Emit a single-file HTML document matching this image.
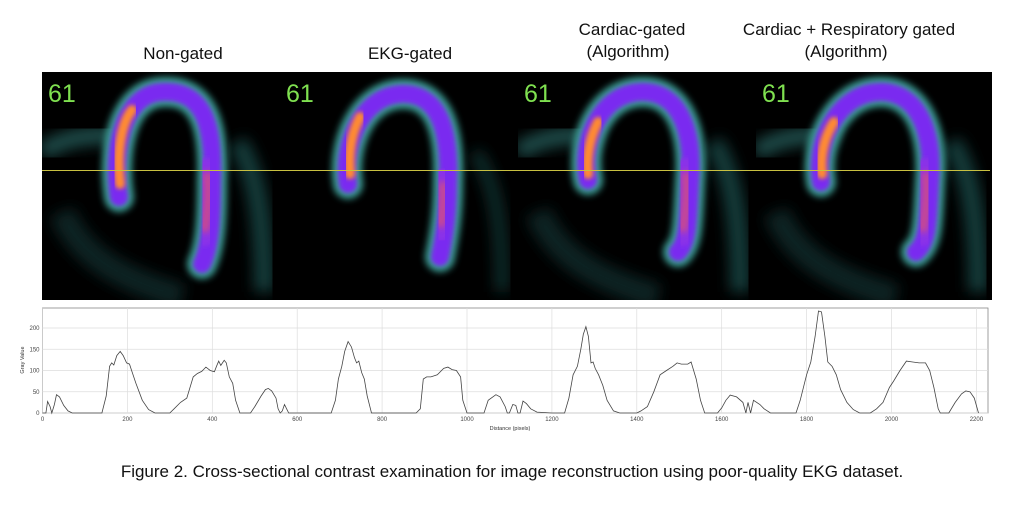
<!DOCTYPE html>
<html><head><meta charset="utf-8">
<style>
html,body{margin:0;padding:0;background:#fff;}
body{width:1024px;height:517px;overflow:hidden;font-family:"Liberation Sans",sans-serif;}
svg text{font-family:"Liberation Sans",sans-serif;}
</style></head>
<body>
<svg id="fig" width="1024" height="517" viewBox="0 0 1024 517">
<defs>
<filter id="b4" x="-30%" y="-30%" width="160%" height="160%"><feGaussianBlur stdDeviation="3.5"/></filter>
<filter id="b2" x="-30%" y="-30%" width="160%" height="160%"><feGaussianBlur stdDeviation="2"/></filter>
<filter id="b6" x="-30%" y="-30%" width="160%" height="160%"><feGaussianBlur stdDeviation="7"/></filter>
<clipPath id="pc"><rect x="0" y="0" width="236" height="228"/></clipPath>
</defs>
<g font-size="17" text-anchor="middle" fill="#111">
<text x="183" y="59">Non-gated</text>
<text x="410" y="59">EKG-gated</text>
<text x="632" y="35">Cardiac-gated</text>
<text x="628" y="57">(Algorithm)</text>
<text x="849" y="35">Cardiac + Respiratory gated</text>
<text x="846" y="57">(Algorithm)</text>
</g>
<rect x="42" y="72" width="948" height="228" fill="#000"/>
<g id="panels"></g>
<line x1="42" y1="170.5" x2="990" y2="170.5" stroke="#c8c040" stroke-width="1"/>
<g id="chart"></g>
<text x="512" y="477" font-size="17" text-anchor="middle" fill="#111">Figure 2. Cross-sectional contrast examination for image reconstruction using poor-quality EKG dataset.</text>
</svg>
<script>
// chart data
const distances = [0,8,12,18,22,28,33,40,50,60,70,140,150,158,163,168,175,183,190,198,205,210,220,235,250,265,300,310,325,340,355,365,375,385,395,405,410,415,420,428,433,440,448,455,465,490,500,515,525,532,540,550,555,560,565,570,575,580,680,690,697,705,712,720,728,735,740,745,752,758,765,775,880,890,897,905,915,930,945,955,965,975,985,990,1000,1040,1050,1068,1078,1090,1095,1100,1108,1115,1120,1125,1132,1140,1150,1165,1200,1230,1240,1250,1260,1268,1274,1280,1286,1292,1297,1302,1310,1320,1330,1345,1360,1400,1410,1425,1440,1455,1470,1485,1495,1505,1520,1528,1540,1550,1560,1590,1600,1610,1620,1635,1650,1657,1662,1668,1675,1690,1700,1715,1775,1785,1800,1810,1820,1828,1835,1843,1850,1860,1870,1880,1895,1910,1925,1950,1965,1980,1995,2005,2020,2035,2050,2065,2080,2090,2100,2110,2115,2135,2150,2165,2175,2185,2195,2205];
const grayValues = [0,0,27,15,0,20,43,38,18,5,0,0,40,110,118,113,135,145,135,118,115,100,70,30,8,0,0,10,25,35,85,93,98,108,100,97,110,122,112,124,118,85,70,30,0,0,15,40,55,58,52,35,10,0,5,20,10,0,0,30,80,110,145,168,155,130,118,122,95,80,40,0,0,10,80,85,85,90,105,108,102,100,85,30,0,0,30,43,38,15,0,0,20,18,0,0,28,22,10,2,0,0,35,90,110,150,185,203,180,118,120,105,90,65,30,5,0,0,5,15,50,90,100,110,118,115,115,120,80,30,0,0,12,30,42,38,25,0,25,0,30,20,10,0,0,30,90,120,180,240,238,180,120,110,90,55,25,8,0,0,10,25,60,75,100,122,120,118,118,100,60,10,0,0,25,45,52,50,35,0];
const xTicks = [0,200,400,600,800,1000,1200,1400,1600,1800,2000,2200];
const yTicks = [0,50,100,150,200];

const NS='http://www.w3.org/2000/svg';
function mk(tag,attrs,parent){const e=document.createElementNS(NS,tag);for(const k in attrs)e.setAttribute(k,attrs[k]);parent.appendChild(e);return e;}

// panels
const panels=document.getElementById('panels');
const panelX=[42,280,518,756];
const arcs=[
 {arc:"M77,125 C70,80 80,22 120,20 C165,17 172,60 170,110 C170,150 168,175 160,192",hot:"M78,112 C74,80 80,50 90,38",rb:"M165,100 C168,120 166,140 162,160",teal:true},
 {arc:"M68,112 C62,75 80,25 120,22 C160,20 170,60 168,110 C168,140 165,160 160,185",hot:"M70,102 C68,80 72,60 80,45",rb:"M163,110 C165,125 163,140 160,155",teal:false},
 {arc:"M70,108 C62,70 82,22 122,20 C162,18 176,60 172,110 C170,150 170,170 160,180",hot:"M70,102 C68,85 72,65 80,50",rb:"M168,100 C170,120 168,140 164,160",teal:true},
 {arc:"M65,110 C58,70 82,22 122,20 C162,18 178,60 174,110 C172,150 172,170 160,180",hot:"M66,102 C64,85 68,65 78,50",rb:"M170,100 C172,120 170,140 166,160",teal:true}
];
panelX.forEach((px,i)=>{
 const g=mk('g',{transform:`translate(${px},72)`},panels);
 
 
 const c=mk('g',{'clip-path':'url(#pc)'},g);
 mk('rect',{x:0,y:0,width:236,height:228,fill:'#000'},c);
 const a=arcs[i];
 if(a.teal){
  mk('path',{d:"M0,80 C30,60 60,65 80,62",stroke:'#2a6a68',"stroke-width":18,fill:'none',filter:'url(#b6)',opacity:0.7},c);
  mk('path',{d:"M195,70 C215,100 222,150 222,220",stroke:'#1f5553',"stroke-width":20,fill:'none',filter:'url(#b6)',opacity:0.7},c);
  mk('path',{d:"M20,140 C40,190 90,210 140,225",stroke:'#143a3a',"stroke-width":26,fill:'none',filter:'url(#b6)',opacity:0.6},c);
 } else {
  mk('path',{d:"M195,80 C215,110 222,150 222,220",stroke:'#173f3e',"stroke-width":14,fill:'none',filter:'url(#b6)',opacity:0.7},c);
 }
 mk('path',{d:a.arc,stroke:'#3a9a92',"stroke-width":30,fill:'none',filter:'url(#b4)',"stroke-linecap":'round'},c);
 mk('path',{d:a.rb,stroke:'#3a9a92',"stroke-width":40,fill:'none',filter:'url(#b4)',"stroke-linecap":'round'},c);
 mk('path',{d:a.arc,stroke:'#7a2cf0',"stroke-width":18,fill:'none',filter:'url(#b2)',"stroke-linecap":'round'},c);
 mk('path',{d:a.rb,stroke:'#8a30e8',"stroke-width":28,fill:'none',filter:'url(#b2)',"stroke-linecap":'round'},c);
 mk('path',{d:a.hot,stroke:'#ff8a30',"stroke-width":10,fill:'none',filter:'url(#b2)',"stroke-linecap":'round'},c);
 mk('path',{d:a.rb,stroke:'#d8507a',"stroke-width":10,fill:'none',filter:'url(#b4)',opacity:0.8},c);
 const t=mk('text',{x:6,y:30,'font-size':25,fill:'#7fe050'},c);
 
 
 t.textContent='61';
});

// chart
const chart=document.getElementById('chart');
const L=42.5, R=988, T=308, B=413, kx=0.4245, ky=0.425;
const sx=v=>L+v*kx, sy=v=>B-v*ky;
mk('rect',{x:L,y:T,width:R-L,height:B-T,fill:'#fff',stroke:'#888','stroke-width':0.8},chart);
xTicks.forEach(v=>{
 const l=mk('line',{x1:sx(v),x2:sx(v),y1:T,y2:B,stroke:'#ddd','stroke-width':0.7},chart);
 
 
 const t=mk('text',{x:sx(v),y:B+8,'font-size':6,'text-anchor':'middle',fill:'#444'},chart);
 
 
 t.textContent=v;
});
yTicks.forEach(v=>{
 const l=mk('line',{x1:L,x2:R,y1:sy(v),y2:sy(v),stroke:'#ddd','stroke-width':0.7},chart);
 
 
 const t=mk('text',{x:L-3,y:sy(v)+2,'font-size':6,'text-anchor':'end',fill:'#444'},chart);
 
 
 t.textContent=v;
});
const xl=mk('text',{x:510,y:430,'font-size':5.5,'text-anchor':'middle',fill:'#333'},chart);


xl.textContent='Distance (pixels)';
const yl=mk('text',{x:24,y:360,'font-size':5.5,'text-anchor':'middle',fill:'#333',transform:'rotate(-90 24 360)'},chart);


yl.textContent='Gray Value';
let d='';
distances.forEach((x,i)=>{d+=(i?'L':'M')+sx(x).toFixed(1)+','+sy(grayValues[i]).toFixed(1);});
const p=mk('path',{d:d,fill:'none',stroke:'#444','stroke-width':0.8},chart);


</script>
</body></html>
